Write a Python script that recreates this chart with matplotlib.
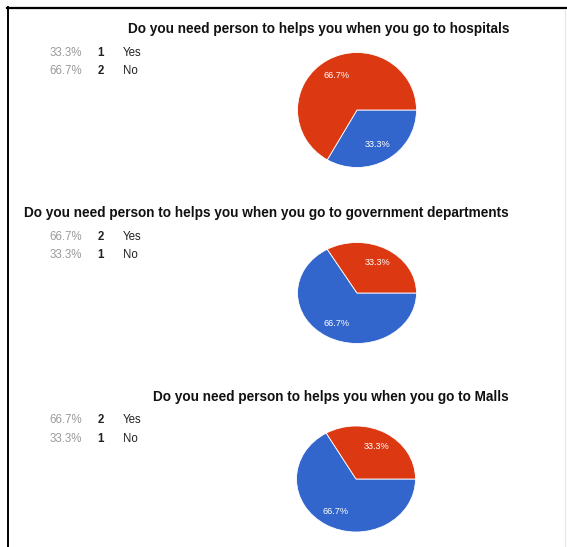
"""
Recreate three Google-Forms style yes/no pie summaries stacked in one figure.
"""
import matplotlib
matplotlib.use("Agg")
import matplotlib.pyplot as plt
from matplotlib.lines import Line2D

# data
TITLES = [
    "Do you need person to helps you when you go to hospitals",
    "Do you need person to helps you when you go to government departments",
    "Do you need person to helps you when you go to Malls",
]
ANSWERS = ["Yes", "No"]
COUNTS = [
    [1, 2],   # hospitals
    [2, 1],   # government departments
    [2, 1],   # malls
]

# style
BLUE = "#3366cc"
RED = "#dc3912"
W, H = 567, 547
FONT = ["Liberation Sans", "DejaVu Sans"]

# layout in pixels (top-left origin): title y, legend row y's, pie centre / radii
TITLE_Y = [29, 213.5, 397]
LEGEND_Y = [(52.5, 71.5), (237, 255.5), (420, 439.5)]
PIE_CENTER = [(357, 110), (357, 293), (356, 479)]
PIE_RX = 59.5
PIE_RY = [57.5, 50.5, 53]

plt.rcParams["font.family"] = FONT

fig = plt.figure(figsize=(W / 100, H / 100), dpi=100)
fig.patch.set_facecolor("white")


def px(x, y):
    return x / W, 1 - y / H


# frame lines of the screenshot
fig.add_artist(Line2D([7 / W, 1], [1 - 7.5 / H] * 2, color="black", lw=1.6))
fig.add_artist(Line2D([7.5 / W] * 2, [0, 1 - 7 / H], color="black", lw=1.4))
fig.add_artist(Line2D([565 / W] * 2, [0, 1 - 9 / H], color="#e6e6e6", lw=0.8))

for i, (title, counts) in enumerate(zip(TITLES, COUNTS)):
    total = sum(counts)
    pcts = [100 * c / total for c in counts]

    fig.text(*px(509, TITLE_Y[i]), title, ha="right", va="center",
             fontsize=9.8, fontweight="bold", color="#111111")

    # legend rows in answer order
    for row, k in enumerate(range(len(counts))):
        y = LEGEND_Y[i][row]
        fig.text(*px(82, y), f"{pcts[k]:.1f}%", ha="right", va="center",
                 fontsize=8.3, color="#9a9a9a")
        fig.text(*px(101, y), str(counts[k]), ha="center", va="center",
                 fontsize=8.3, fontweight="bold", color="#222222")
        fig.text(*px(123, y), ANSWERS[k], ha="left", va="center",
                 fontsize=8.3, color="#222222")

    cx, cy = PIE_CENTER[i]
    ry = PIE_RY[i]
    x0, y0 = px(cx - PIE_RX, cy + ry)
    ax = fig.add_axes([x0, y0, 2 * PIE_RX / W, 2 * ry / H])
    wedges, texts, autotexts = ax.pie(
        counts, colors=[BLUE, RED], startangle=0, counterclock=False,
        autopct="%1.1f%%", pctdistance=0.7,
        wedgeprops=dict(edgecolor="white", linewidth=0.6),
        textprops=dict(color="white", fontsize=6.6),
    )
    ax.set_xlim(-1, 1)
    ax.set_ylim(-1, 1)
    ax.set_aspect("auto")
    ax.axis("off")

fig.savefig("out.png", dpi=100, facecolor="white")
